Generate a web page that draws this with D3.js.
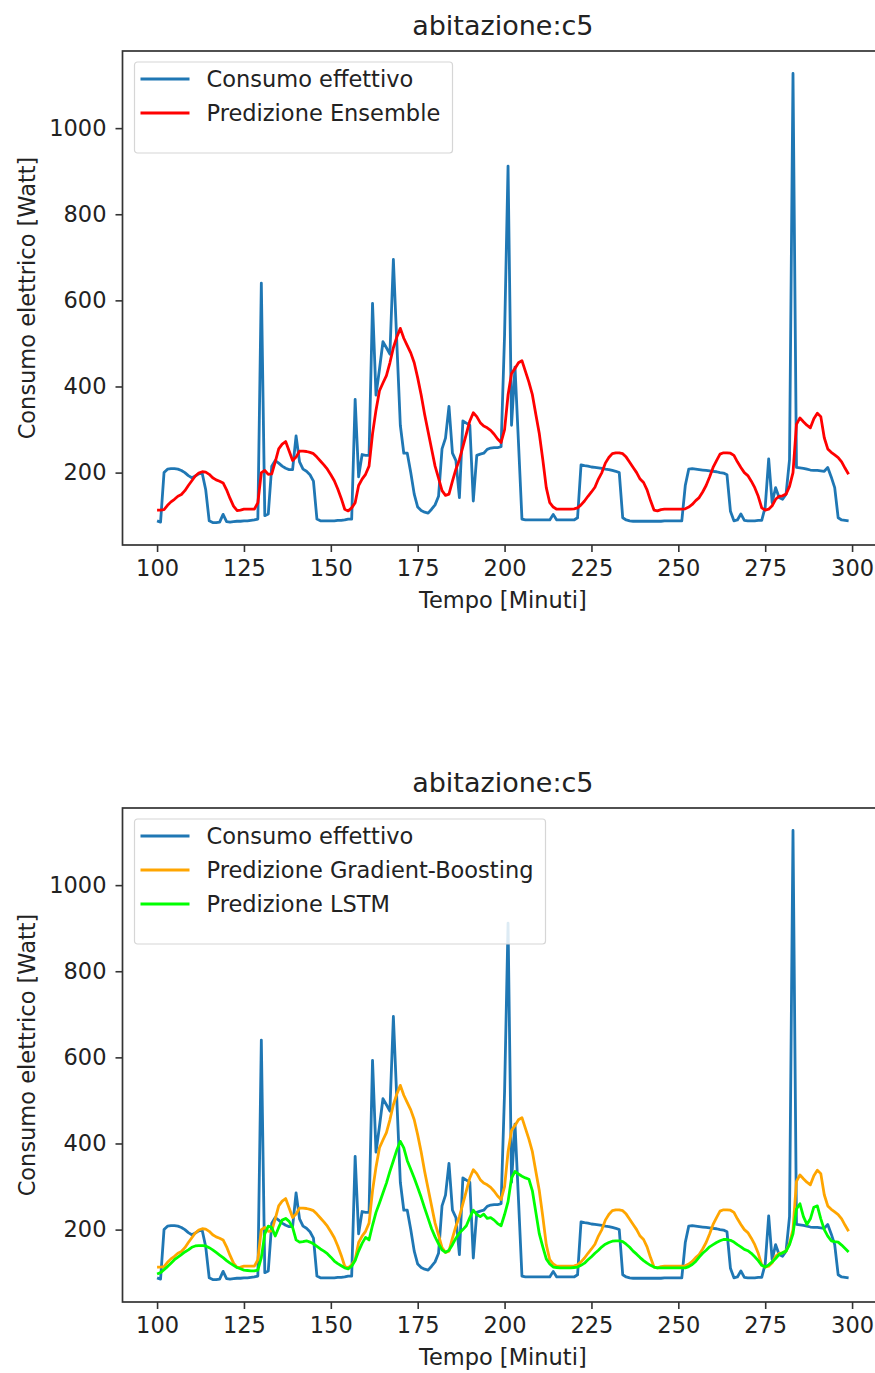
<!DOCTYPE html>
<html>
<head>
<meta charset="utf-8">
<script src="https://cdn.jsdelivr.net/npm/d3@7/dist/d3.min.js"></script>
<style>
  html, body { margin: 0; padding: 0; background: #fff; }
  svg { display: block; }
  text { font-family: "DejaVu Sans", sans-serif; fill: #222; }
</style>
</head>
<body>
<svg id="chart" width="875" height="1373"></svg>
<script>
// ---------------- DATA ----------------
const chartTitle = "abitazione:c5";
const xLabel = "Tempo [Minuti]";
const yLabel = "Consumo elettrico [Watt]";
const startMinute = 100;
const xTicks = [100, 125, 150, 175, 200, 225, 250, 275, 300];
const yTicks = [200, 400, 600, 800, 1000];

// Consumo effettivo (one value per minute, 100..299)
const actual = [
  88, 85, 200, 208, 209, 209, 208, 205, 200, 193,
  188, 192, 197, 198, 160, 88, 84, 84, 85, 103,
  86, 85, 86, 87, 87, 88, 88, 89, 90, 92,
  640, 100, 104, 215, 228, 222, 215, 210, 207, 207,
  285, 225, 208, 203, 195, 180, 92, 88, 88, 88,
  88, 88, 89, 89, 90, 92, 92, 370, 190, 242,
  240, 240, 593, 380, 440, 504, 490, 475, 695, 500,
  310, 245, 245, 200, 150, 120, 112, 108, 106, 115,
  125, 145, 255, 280, 354, 245, 228, 142, 320, 315,
  310, 134, 240, 243, 245, 254, 257, 258, 258, 260,
  520, 912, 310, 445, 270, 92, 90, 90, 90, 90,
  90, 90, 90, 90, 103, 90, 90, 90, 90, 90,
  90, 95, 218, 216, 215, 213, 212, 211, 210, 208,
  207, 205, 203, 200, 95, 90, 88, 87, 87, 87,
  87, 87, 87, 87, 87, 87, 88, 88, 88, 88,
  88, 88, 170, 208, 209, 208, 207, 206, 205, 204,
  203, 202, 200, 199, 195, 110, 88, 90, 104, 89,
  88, 88, 88, 89, 89, 120, 232, 130, 165, 142,
  138, 150, 230, 1127, 212, 211, 210, 208, 206, 205,
  205, 204, 203, 212, 190, 165, 95, 90, 89, 88
];

// Predizione Ensemble
const ensemble = [
  113, 113, 114, 124, 132, 138, 145, 149, 158, 170,
  181, 192, 199, 202, 201, 196, 188, 183, 180, 176,
  160, 140, 122, 112, 113, 115, 115, 115, 115, 130,
  200, 205, 196, 197, 225, 255, 266, 272, 250, 228,
  236, 250, 250, 249, 247, 244, 236, 227, 218, 208,
  195, 181, 162, 140, 115, 111, 118, 130, 170, 185,
  196, 215, 290, 345, 390, 408, 425, 455, 490, 515,
  535, 512, 495, 478, 455, 420, 380, 335, 295, 255,
  215, 187, 158, 147, 150, 180, 208, 230, 260, 290,
  320, 339, 330, 316, 308, 304, 298, 289, 278, 270,
  300, 380, 430, 442, 455, 460, 435, 410, 381, 335,
  290, 230, 165, 130, 120, 115, 115, 115, 115, 115,
  116, 118, 125, 134, 145, 155, 166, 185, 200, 222,
  235, 244, 246, 246, 244, 236, 224, 212, 200, 185,
  177, 160, 135, 113, 111, 114, 115, 115, 115, 115,
  115, 115, 116, 120, 126, 135, 142, 155, 170, 190,
  212, 228, 243, 246, 246, 245, 240, 225, 212, 200,
  193, 180, 165, 145, 118, 113, 115, 123, 138, 145,
  146, 150, 168, 200, 312, 327, 318, 310, 304, 325,
  338, 330, 281, 255, 247, 241, 235, 225, 210, 196
];

// Predizione Gradient-Boosting (coincides with the ensemble curve in the picture)
const gradientBoosting = ensemble.slice();

// Predizione LSTM
const lstm = [
  97, 100, 107, 114, 122, 130, 136, 142, 148, 153,
  159, 162, 163, 163, 162, 158, 153, 147, 141, 135,
  128, 122, 117, 112, 109, 106, 105, 104, 104, 106,
  135, 190, 208, 205, 185, 205, 222, 226, 219, 205,
  176, 171, 172, 174, 171, 167, 161, 155, 150, 144,
  136, 127, 121, 116, 111, 109, 115, 128, 150, 168,
  182, 176, 210, 240, 262, 285, 308, 335, 360, 385,
  405, 390, 360, 340, 320, 298, 275, 250, 226, 202,
  183, 167, 153, 147, 152, 165, 180, 192, 200, 209,
  228, 245, 235, 230, 236, 226, 228, 222, 214, 209,
  235, 265, 320, 335, 329, 324, 320, 317, 290, 240,
  190, 160, 132, 120, 113, 112, 111, 111, 111, 111,
  112, 113, 117, 122, 130, 137, 145, 152, 160, 166,
  170, 173, 174, 174, 172, 166, 159, 150, 143, 135,
  128, 122, 117, 113, 111, 111, 111, 111, 111, 111,
  111, 111, 111, 114, 119, 126, 136, 145, 152, 160,
  165, 170, 174, 177, 177, 175, 171, 165, 160, 154,
  151, 145, 137, 128, 117, 113, 118, 125, 133, 142,
  146, 150, 165, 190, 248, 260, 230, 212, 225, 252,
  255, 225, 200, 185, 174, 172, 171, 164, 156, 148
];

const topSeries = [
  { name: "Consumo effettivo", values: actual, color: "#1f77b4" },
  { name: "Predizione Ensemble", values: ensemble, color: "#ff0000" }
];
const bottomSeries = [
  { name: "Consumo effettivo", values: actual, color: "#1f77b4" },
  { name: "Predizione Gradient-Boosting", values: gradientBoosting, color: "#ffa500" },
  { name: "Predizione LSTM", values: lstm, color: "#00ff00" }
];

// ---------------- DRAW ----------------
const svg = d3.select("#chart");
const FS = 22.5;

function drawPanel(offsetY, series, legendWidth) {
  const plot = { left: 122.5, top: offsetY + 51, bottom: offsetY + 545 };
  const n = actual.length;
  const xMin = startMinute, xMax = startMinute + n - 1;
  const xPad = (xMax - xMin) * 0.05;
  const allVals = series.flatMap(s => s.values);
  const [vMin, vMax] = d3.extent(allVals);
  const yPad = (vMax - vMin) * 0.05;

  const pxPerMin = 3.475;
  const x = d3.scaleLinear()
    .domain([xMin - xPad, xMax + xPad])
    .range([plot.left, plot.left + (xMax - xMin + 2 * xPad) * pxPerMin]);
  const y = d3.scaleLinear()
    .domain([vMin - yPad, vMax + yPad])
    .range([plot.bottom, plot.top]);
  const right = x.range()[1];

  const g = svg.append("g");

  // lines
  const line = d3.line()
    .x((d, i) => x(startMinute + i))
    .y(d => y(d));
  series.forEach(s => {
    g.append("path")
      .datum(s.values)
      .attr("fill", "none")
      .attr("stroke", s.color)
      .attr("stroke-width", 2.8)
      .attr("stroke-linejoin", "round")
      .attr("stroke-linecap", "butt")
      .attr("d", line);
  });

  // axes
  const xAxis = d3.axisBottom(x).tickValues(xTicks).tickSize(7).tickPadding(8)
    .tickFormat(d3.format("d"));
  const yAxis = d3.axisLeft(y).tickValues(yTicks).tickSize(7).tickPadding(9)
    .tickFormat(d3.format("d"));

  const gx = g.append("g").attr("transform", `translate(0,${plot.bottom})`).call(xAxis);
  const gy = g.append("g").attr("transform", `translate(${plot.left},0)`).call(yAxis);
  [gx, gy].forEach(ax => {
    ax.select(".domain").remove();
    ax.selectAll(".tick line").attr("stroke", "#333").attr("stroke-width", 1.6);
    ax.selectAll(".tick text")
      .attr("fill", "#222")
      .style("font-family", "'DejaVu Sans', sans-serif")
      .style("font-size", FS + "px");
  });

  // frame
  g.append("rect")
    .attr("x", plot.left).attr("y", plot.top)
    .attr("width", right - plot.left).attr("height", plot.bottom - plot.top)
    .attr("fill", "none").attr("stroke", "#333").attr("stroke-width", 1.7);

  const cx = (plot.left + right) / 2;
  // title
  g.append("text").attr("x", cx).attr("y", offsetY + 35)
    .attr("text-anchor", "middle").style("font-size", "27px").text(chartTitle);
  // x label
  g.append("text").attr("x", cx).attr("y", offsetY + 608)
    .attr("text-anchor", "middle").style("font-size", FS + "px").text(xLabel);
  // y label
  g.append("text")
    .attr("transform", `translate(35,${(plot.top + plot.bottom) / 2}) rotate(-90)`)
    .attr("text-anchor", "middle").style("font-size", FS + "px").text(yLabel);

  // legend
  const lg = g.append("g").attr("transform", `translate(134.5,${offsetY + 62})`);
  const rowH = 34;
  lg.append("rect")
    .attr("x", 0).attr("y", 0)
    .attr("width", legendWidth).attr("height", 17 + rowH * series.length + 6)
    .attr("rx", 3).attr("fill", "#fff").attr("fill-opacity", 0.85)
    .attr("stroke", "#d6d6d6").attr("stroke-width", 1.2);
  series.forEach((s, i) => {
    const cy = 17 + i * rowH;
    lg.append("line")
      .attr("x1", 6).attr("x2", 55).attr("y1", cy).attr("y2", cy)
      .attr("stroke", s.color).attr("stroke-width", 2.8);
    lg.append("text").attr("x", 72).attr("y", cy).attr("dy", "0.36em")
      .style("font-size", FS + "px").text(s.name);
  });
}

drawPanel(0, topSeries, 318);
drawPanel(757, bottomSeries, 411);
</script>
</body>
</html>
